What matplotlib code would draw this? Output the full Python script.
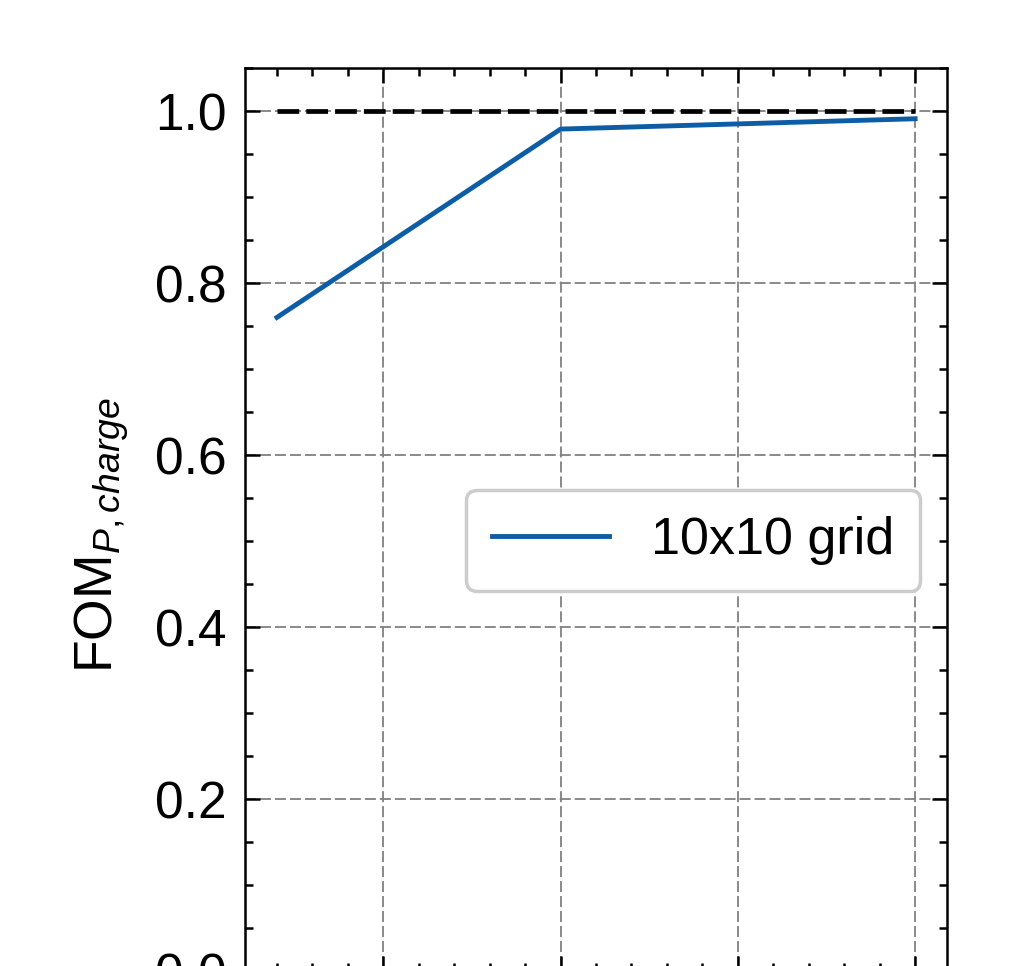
import numpy as np
import matplotlib
matplotlib.use('Agg')
import matplotlib.pyplot as plt

# grid sizes and figure of merit
n_cells = [10, 50, 100]
fom_charge = [0.76, 0.979, 0.991]
ref_x = [10, 100]
ref_y = [1.0, 1.0]
series_label = "10x10 grid"

plt.rcParams['font.family'] = ['Liberation Sans', 'DejaVu Sans']
plt.rcParams['mathtext.fontset'] = 'custom'
plt.rcParams['mathtext.rm'] = 'Liberation Sans'
plt.rcParams['mathtext.it'] = 'Liberation Sans:italic'
plt.rcParams['font.size'] = 37

fig = plt.figure(figsize=(10.18, 9.66), dpi=100)
ax = fig.add_axes([0.2407, -0.0052, 0.6896, 0.9348])

ax.plot(n_cells, fom_charge, color='#0C5DA5', lw=3.5, label=series_label, zorder=3)
ax.plot(ref_x, ref_y, color='black', lw=3.4, linestyle=(0, (4.6, 1.5)), zorder=2)

ax.set_xlim(5.5, 104.5)
ax.set_ylim(0, 1.05)
ax.set_xticks([25, 50, 75, 100])
ax.set_yticks([0.0, 0.2, 0.4, 0.6, 0.8, 1.0])
ax.set_yticklabels(['0.0', '0.2', '0.4', '0.6', '0.8', '1.0'])
ax.minorticks_on()

ax.tick_params(which='both', direction='in', top=True, right=True, width=1.8)
ax.tick_params(which='major', length=11, pad=13)
ax.tick_params(which='minor', length=6)
ax.tick_params(axis='x', labelbottom=False)
for sp in ax.spines.values():
    sp.set_linewidth(1.8)

ax.grid(True, which='major', color='#808080', lw=1.3, linestyle=(0, (6.1, 2.2)))
ax.set_axisbelow(True)

ax.set_ylabel(r'FOM$_{P,charge}$', fontsize=38.5)
ax.yaxis.set_label_coords(-0.162, 0.483)

leg = ax.legend(loc='center right', bbox_to_anchor=(0.962, 0.477), borderaxespad=0,
                handlelength=2.25, borderpad=0.5, fontsize=37.5,
                fancybox=True, framealpha=1, edgecolor='#cccccc')
leg.get_frame().set_linewidth(2.5)

fig.savefig('out.png', dpi=100)
